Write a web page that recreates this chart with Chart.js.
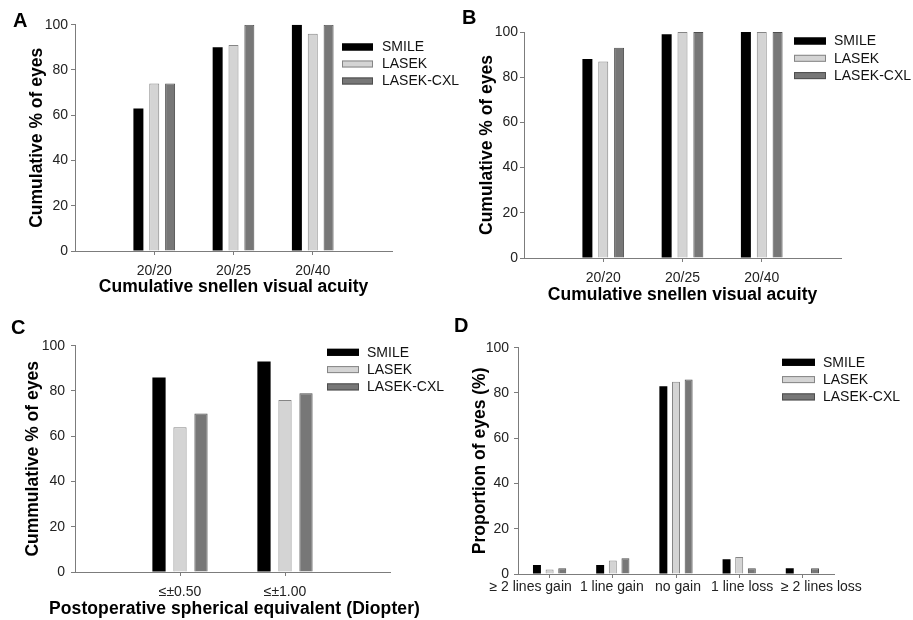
<!DOCTYPE html>
<html><head><meta charset="utf-8">
<script src="https://cdn.jsdelivr.net/npm/chart.js@4"></script>
<style>
body{margin:0;background:#fff;width:913px;height:620px;position:relative;overflow:hidden;font-family:"Liberation Sans",Arial,sans-serif}
canvas{position:absolute}
.lbl{position:absolute;font-weight:bold;font-size:20px;line-height:1;color:#000}
</style></head><body>
<canvas id="cA" width="470" height="310" style="left:0;top:0"></canvas>
<canvas id="cB" width="457" height="310" style="left:456px;top:0"></canvas>
<canvas id="cC" width="470" height="310" style="left:0;top:310px"></canvas>
<canvas id="cD" width="457" height="310" style="left:456px;top:310px"></canvas>
<div class="lbl" style="left:13px;top:10px">A</div>
<div class="lbl" style="left:462px;top:7px">B</div>
<div class="lbl" style="left:11px;top:317px">C</div>
<div class="lbl" style="left:454px;top:315px">D</div>
<script>
// ---- data ----
const groups = ['SMILE', 'LASEK', 'LASEK-CXL'];
const catsAB = ['20/20', '20/25', '20/40'];
const smileA = [63, 90, 100];
const lasekA = [74, 91, 96];
const cxlA = [74, 100, 100];
const smileB = [88, 99, 100];
const lasekB = [87, 100, 100];
const cxlB = [93, 100, 100];
const catsC = ['≤±0.50', '≤±1.00'];
const smileC = [86, 93];
const lasekC = [64, 76];
const cxlC = [70, 79];
const catsD = ['≥ 2 lines gain', '1 line gain', 'no gain', '1 line loss', '≥ 2 lines loss'];
const smileD = [4, 4, 83, 6.5, 2.5];
const lasekD = [2, 6, 85, 7.5, 0];
const cxlD = [2.5, 7, 86, 2.5, 2.5];
const yMin = 0, yMax = 100, yStep = 20;

// ---- styling ----
const FONT = '"Liberation Sans", Arial, sans-serif';
Chart.defaults.font.family = FONT;
const fills = ['#000000', '#d4d4d4', '#777777'];
const borders = ['#000000', '#858585', '#4e4e4e'];
const AXIS = '#7c7c7c';
const TITLE_FS = 17.5, TITLE_LH = 1.2;

const legendPlugin = {
  id: 'boxLegend',
  afterDraw(chart, args, o) {
    const ctx = chart.ctx;
    ctx.save();
    chart.data.datasets.forEach((ds, i) => {
      const y = o.y + i * o.gap;
      ctx.fillStyle = ds.backgroundColor;
      ctx.fillRect(o.x, y - 3.5, o.w, 7);
      ctx.strokeStyle = ds.borderColor;
      ctx.lineWidth = 1;
      ctx.strokeRect(o.x + 0.5, y - 3, o.w - 1, 6);
      ctx.fillStyle = '#111';
      ctx.font = '14px ' + FONT;
      ctx.textBaseline = 'middle';
      ctx.textAlign = 'left';
      ctx.fillText(ds.label, o.tx, y + 0.5);
    });
    ctx.restore();
  }
};

// draws category labels spread apart (as in the original figure) when a shift list is given
const spreadLabels = {
  id: 'spreadLabels',
  afterDraw(chart, args, o) {
    if (!o || !o.shift) return;
    const ctx = chart.ctx, xs = chart.scales.x;
    ctx.save();
    ctx.fillStyle = '#222';
    ctx.font = '14px ' + FONT;
    ctx.textAlign = 'center';
    ctx.textBaseline = 'middle';
    chart.data.labels.forEach((l, i) => {
      ctx.fillText(l, xs.getPixelForTick(i) + o.shift[i], chart.chartArea.bottom + o.dy);
    });
    ctx.restore();
  }
};

// x-axis title wider than the plot (panel C): drawn at natural width, not squeezed
const wideTitle = {
  id: 'wideTitle',
  afterDraw(chart, args, o) {
    if (!o || !o.text) return;
    const ctx = chart.ctx, ca = chart.chartArea;
    ctx.save();
    ctx.fillStyle = '#000';
    ctx.font = 'bold ' + TITLE_FS + 'px ' + FONT;
    if ('letterSpacing' in ctx) ctx.letterSpacing = o.spacing + 'px';
    ctx.textAlign = 'center';
    ctx.textBaseline = 'middle';
    ctx.fillText(o.text, (ca.left + ca.right) / 2 + o.dx, o.y);
    ctx.restore();
  }
};

function makeChart(id, labels, series, o) {
  const cv = document.getElementById(id);
  const W = cv.width, H = cv.height;
  const padLeft = o.yTitleX - TITLE_FS * TITLE_LH / 2;
  const xAxisH = o.xTitleY ? (o.xTitleY + TITLE_FS * TITLE_LH / 2 - o.plot.bottom) : 40;
  const padBottom = H - o.plot.bottom - xAxisH;
  const shown = labels.map(l => l !== '');
  return new Chart(cv, {
    type: 'bar',
    data: {
      labels: labels,
      datasets: series.map((d, i) => ({
        label: groups[i],
        data: d,
        backgroundColor: fills[i],
        borderColor: borders[i],
        borderWidth: i === 0 ? 0 : 1,
        borderSkipped: 'bottom',
        categoryPercentage: 0.6,
        barPercentage: 0.63
      }))
    },
    options: {
      responsive: false,
      animation: false,
      devicePixelRatio: 1,
      layout: { padding: { left: padLeft, top: o.plot.top, right: W - o.plot.right, bottom: padBottom } },
      plugins: {
        legend: { display: false },
        tooltip: { enabled: false },
        boxLegend: o.legend,
        spreadLabels: o.spread || {},
        wideTitle: o.wideTitle || {}
      },
      scales: {
        x: {
          offset: o.offset,
          afterFit: s => { s.height = xAxisH; },
          grid: {
            offset: false, drawOnChartArea: false, drawTicks: true, tickLength: 4,
            tickColor: c => shown[c.index] ? AXIS : 'rgba(0,0,0,0)'
          },
          border: { display: true, color: AXIS, width: 1 },
          ticks: { display: !o.spread, color: '#222', font: { size: 14 }, padding: o.xTickPad, maxRotation: 0, autoSkip: false },
          title: o.xTitle ? {
            display: true, text: o.xTitle, color: '#000',
            font: { size: TITLE_FS, weight: 'bold', lineHeight: TITLE_LH }, padding: 0
          } : { display: false }
        },
        y: {
          min: yMin, max: yMax,
          afterFit: s => { s.width = o.plot.left - padLeft; },
          grid: { drawOnChartArea: false, drawTicks: true, tickLength: 4, color: AXIS },
          border: { display: true, color: AXIS, width: 1 },
          ticks: { stepSize: yStep, color: '#222', font: { size: 14 }, padding: o.yTickPad },
          title: {
            display: true, text: o.yTitle, color: '#000',
            font: { size: TITLE_FS, weight: 'bold', lineHeight: TITLE_LH }, padding: 0
          }
        }
      }
    },
    plugins: [legendPlugin, spreadLabels, wideTitle]
  });
}

const pad = a => [null, ...a, null];
const padL = a => ['', ...a, ''];

makeChart('cA', padL(catsAB), [pad(smileA), pad(lasekA), pad(cxlA)], {
  plot: { left: 75, top: 24.7, right: 392, bottom: 251 },
  yTitleX: 37, xTitleY: 287, xTickPad: 8, yTickPad: 3, offset: false,
  yTitle: 'Cumulative % of eyes', xTitle: 'Cumulative snellen visual acuity',
  legend: { x: 342, y: 47, gap: 17, w: 31, tx: 382 }
});
makeChart('cB', padL(catsAB), [pad(smileB), pad(lasekB), pad(cxlB)], {
  plot: { left: 68, top: 32, right: 385, bottom: 258 },
  yTitleX: 31, xTitleY: 295, xTickPad: 8, yTickPad: 2, offset: false,
  yTitle: 'Cumulative % of eyes', xTitle: 'Cumulative snellen visual acuity',
  legend: { x: 338, y: 41, gap: 17.3, w: 32, tx: 378 }
});
makeChart('cC', padL(catsC), [pad(smileC), pad(lasekC), pad(cxlC)], {
  plot: { left: 75, top: 35.7, right: 390, bottom: 262 },
  yTitleX: 33, xTitleY: 299, xTickPad: 8, yTickPad: 6, offset: false,
  yTitle: 'Cummulative % of eyes', xTitle: null,
  wideTitle: { text: 'Postoperative spherical equivalent (Diopter)', spacing: 0.1, y: 299, dx: 2 },
  legend: { x: 327, y: 42.3, gap: 17.3, w: 32, tx: 367 }
});
makeChart('cD', catsD, [smileD, lasekD, cxlD], {
  plot: { left: 62, top: 37.7, right: 378, bottom: 264 },
  yTitleX: 24, xTitleY: null, xTickPad: 2.5, yTickPad: 5, offset: true,
  yTitle: 'Proportion of eyes (%)', xTitle: null,
  legend: { x: 326, y: 52.3, gap: 17.3, w: 33, tx: 367 },
  spread: { shift: [-19, -1, 2, 3, 19], dy: 13.5 }
});
</script>
</body></html>
